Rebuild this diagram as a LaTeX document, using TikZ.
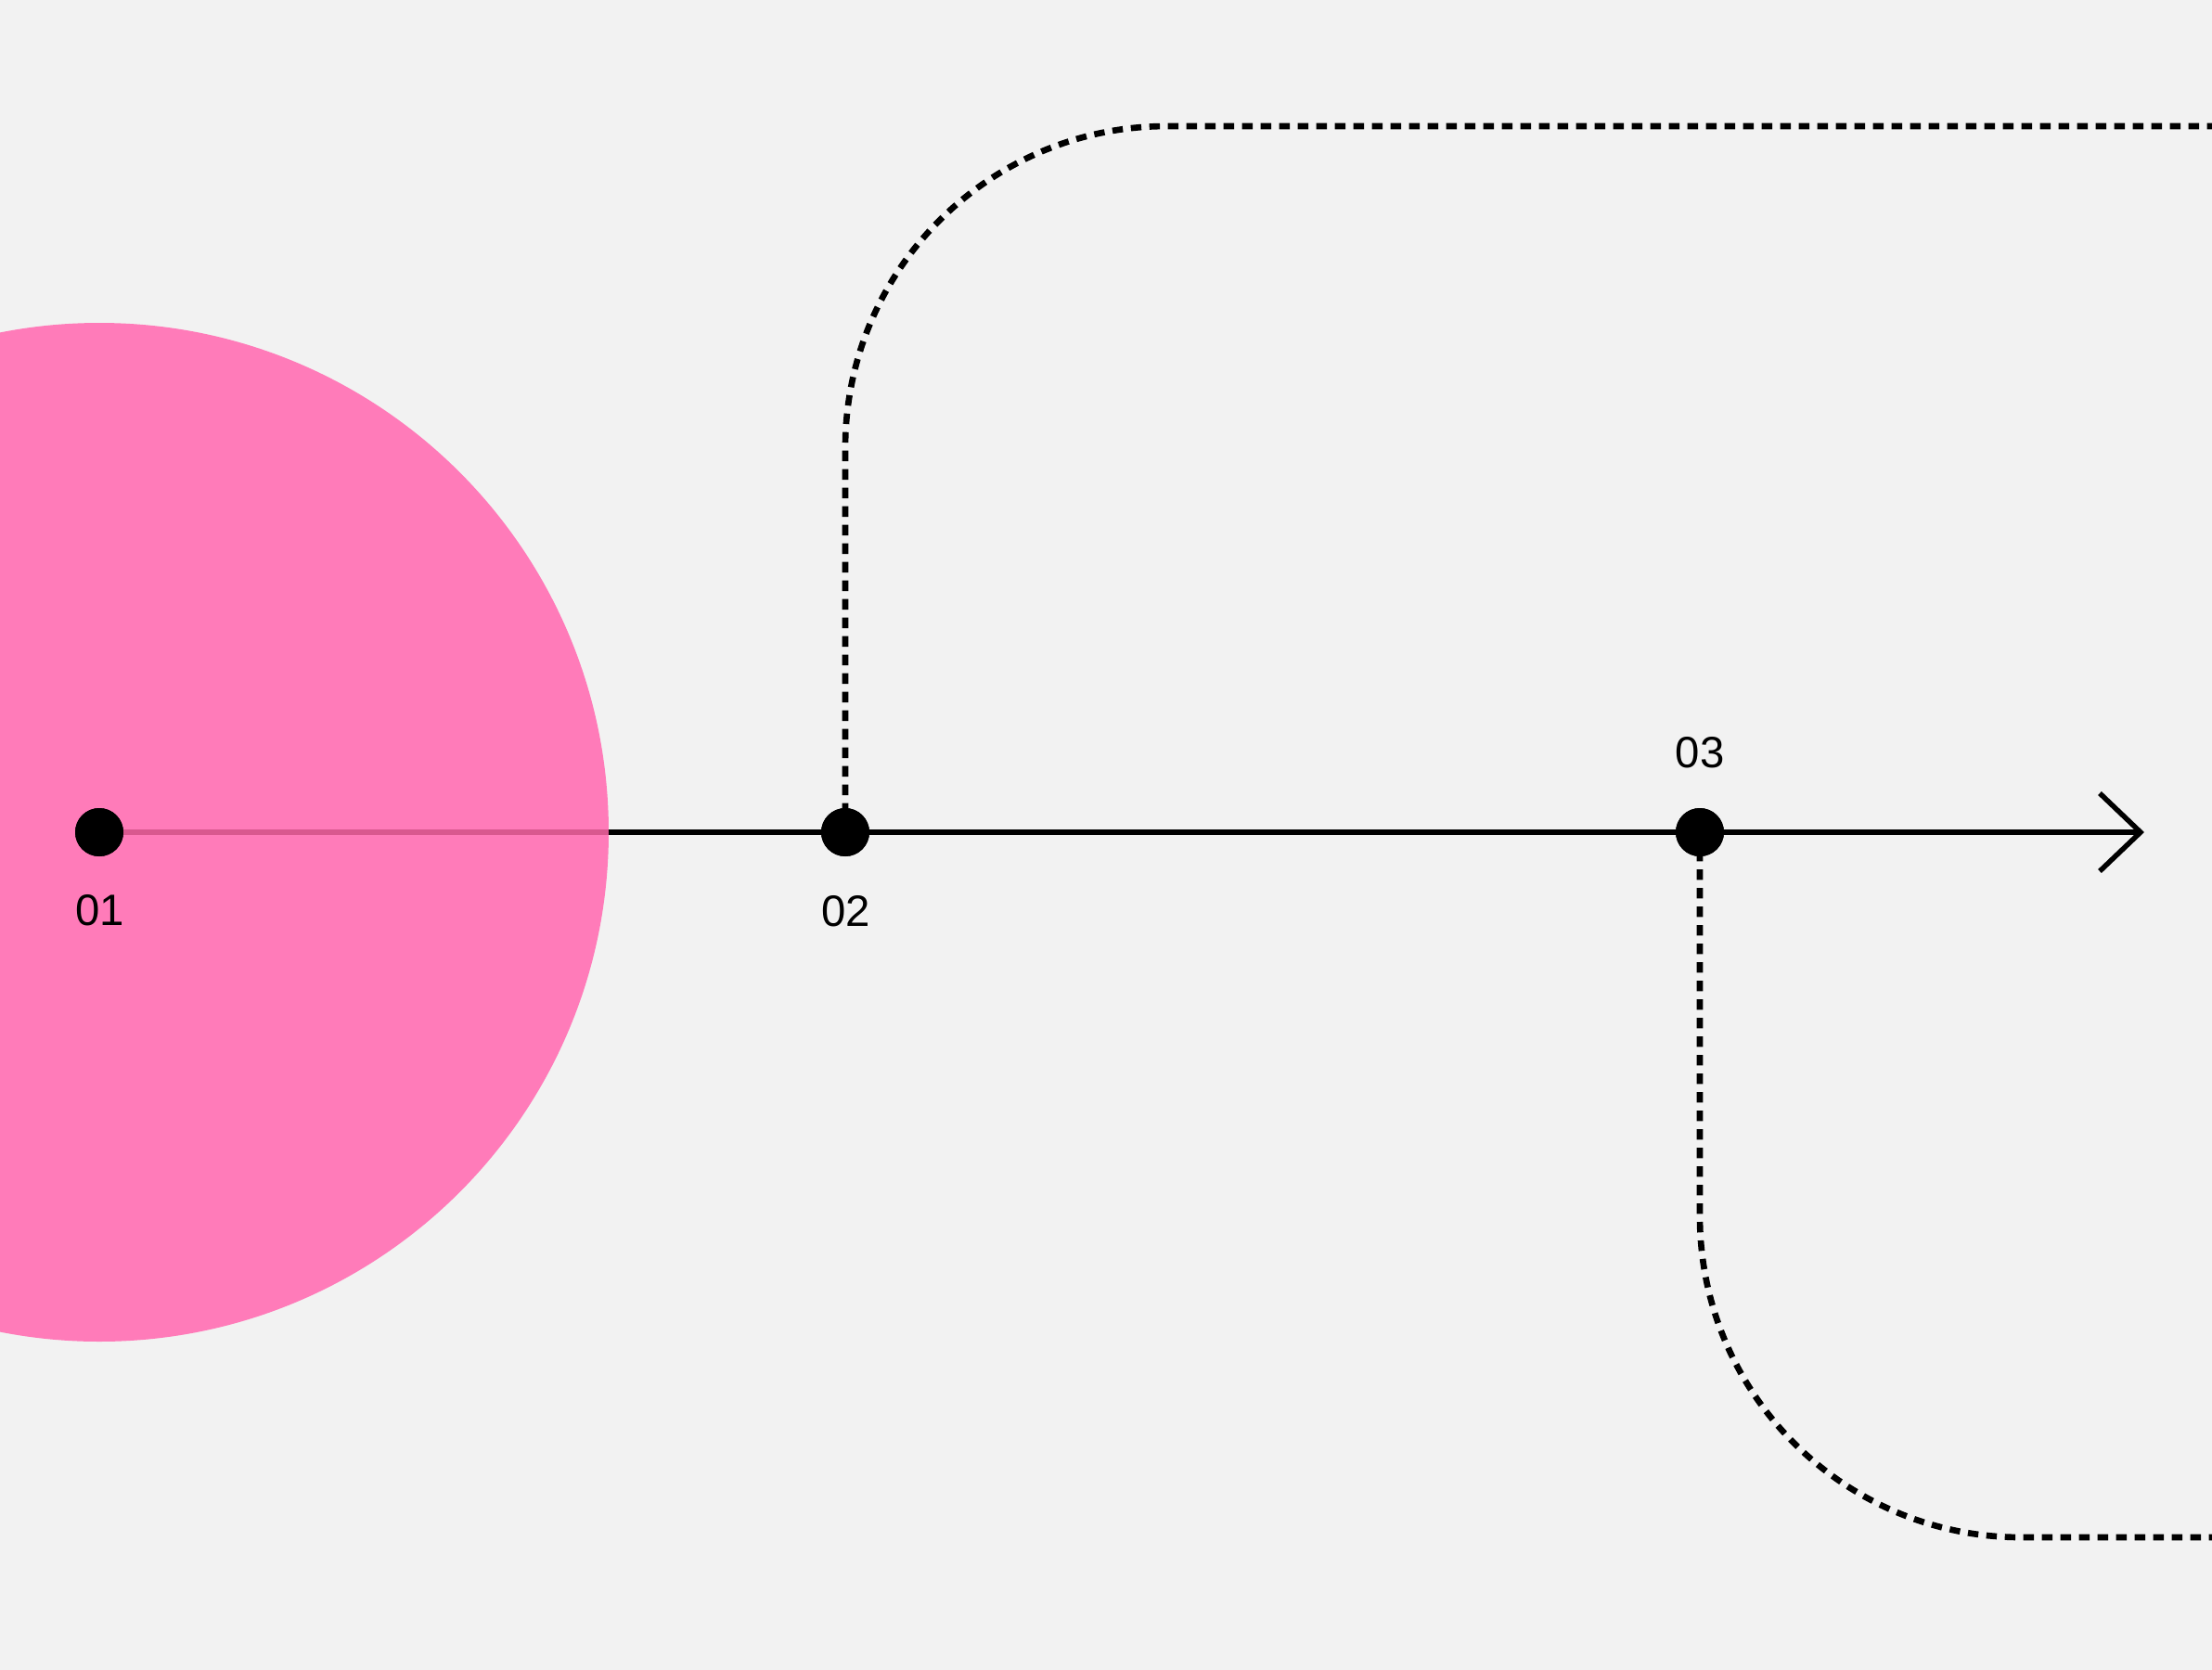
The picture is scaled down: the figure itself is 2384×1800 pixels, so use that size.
\documentclass[tikz,border=0pt]{standalone}
\usepackage{fontspec}
\setmainfont{Liberation Sans}
\definecolor{bg}{HTML}{F2F2F2}
\definecolor{blobpink}{HTML}{FF7BB9}
\definecolor{linepink}{HTML}{D9588F}
\begin{document}
\begin{tikzpicture}[x=0.3pt,y=-0.3pt,
  dotnode/.style={circle,fill=black,minimum size=15.6pt,inner sep=0pt,outer sep=0pt},
  lbl/.style={inner sep=0pt,font=\fontsize{14.2}{17}\selectfont},
  mainline/.style={line width=1.65pt,black},
  dashpath/.style={line width=2pt,black,dash pattern=on 3.4pt off 2.6pt,rounded corners=104pt}]
\useasboundingbox (0,0) rectangle (2384,1800);
\fill[bg] (0,0) rectangle (2384,1800);
\clip (0,0) rectangle (2384,1800);
% pink circle
\node[circle,fill=blobpink,minimum size=329.4pt,inner sep=0pt,outer sep=0pt] (blob) at (107,897) {};
% coordinates
\coordinate (tip) at (2307,897);
\coordinate (topend) at (2400,136);
\coordinate (botend) at (2400,1657);
% dots (positions)
\node[dotnode] (d1) at (107,897) {};
\node[dotnode] (d2) at (911,897) {};
\node[dotnode] (d3) at (1832,897) {};
% dashed branches
\draw[dashpath] (d2.center) -- (911,136) -- (topend);
\draw[dashpath] (d3.center) -- (1832,1657) -- (botend);
% main line
\draw[line width=1.65pt,linepink] (d1) -- (blob.east);
\draw[mainline] (blob.east) -- (tip);
\draw[mainline,line join=miter] (tip) ++(-44,-42) -- (tip) -- ++(-44,42);
% redraw dots on top
\node[dotnode] at (d1) {};
\node[dotnode] at (d2) {};
\node[dotnode] at (d3) {};
% labels
\node[lbl] (l1) at (108,981) {01};
\node[lbl] (l2) at (912,982) {02};
\node[lbl] (l3) at (1832,811) {03};
\end{tikzpicture}
\end{document}
